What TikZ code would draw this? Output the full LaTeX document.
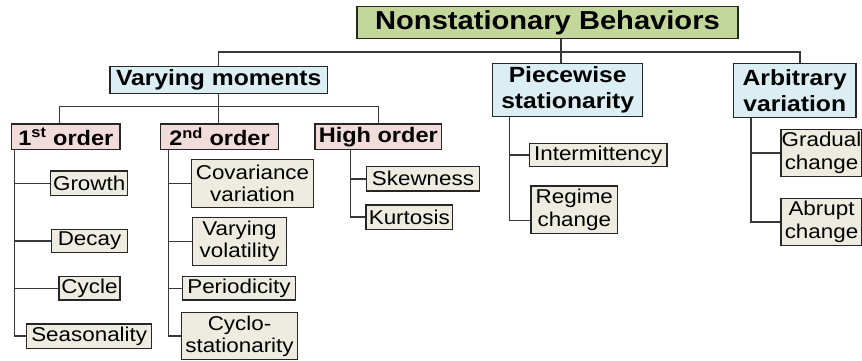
\documentclass[tikz,border=0pt]{standalone}
\usepackage{fontspec}
\setmainfont{Liberation Sans}[FakeStretch=1.12]
\usepackage{tikz}

\definecolor{topgreen}{HTML}{C4D79B}
\definecolor{catblue}{HTML}{DBEEF4}
\definecolor{subpink}{HTML}{F2DCDB}
\definecolor{leafbeige}{HTML}{EEECE1}
\definecolor{boxline}{HTML}{262626}
\definecolor{linegray}{HTML}{383838}

\tikzset{
  box/.style={draw=boxline, line width=1.4pt, inner sep=0pt, align=center},
  topbox/.style={box, fill=topgreen, font=\fontsize{26}{29}\selectfont\bfseries},
  catbox/.style={box, fill=catblue, font=\fontsize{22}{26}\selectfont\bfseries},
  subbox/.style={box, fill=subpink, font=\fontsize{21}{24}\selectfont\bfseries},
  leafbox/.style={box, fill=leafbeige, font=\fontsize{20}{22.4}\selectfont},
  link/.style={draw=linegray, line width=1.5pt},
}

\begin{document}
\begin{tikzpicture}[x=1pt, y=-1pt]
			\clip (0,0) rectangle (862,360);
			\coordinate (busA) at (0,52);
			\coordinate (busB) at (0,106.7);
			% boxes
			\node[topbox, minimum width=381, minimum height=31.6] (root) at (547.5,22.5) {Nonstationary Behaviors};
			\node[catbox, minimum width=217.3, minimum height=26.6] (vm) at (218.7,80) {Varying moments};
			\node[catbox, minimum width=150, minimum height=53.4] (pw) at (567.7,90) {Piecewise\\stationarity};
			\node[catbox, minimum width=122.7, minimum height=54] (arb) at (794.7,90.3) {Arbitrary\\variation};
			\node[subbox, minimum width=108.3, minimum height=25.3] (first) at (65.85,136.7) {1\textsuperscript{st} order};
			\node[subbox, minimum width=117.6, minimum height=25.3] (second) at (219.5,136.7) {2\textsuperscript{nd} order};
			\node[subbox, minimum width=126.7, minimum height=25.3] (high) at (378.3,136.7) {High order};
			\node[leafbox, minimum width=77, minimum height=24.7] (growth) at (89.2,183.3) {Growth};
			\node[leafbox, minimum width=75.7, minimum height=23.4] (decay) at (89.5,241) {Decay};
			\node[leafbox, minimum width=61, minimum height=23.3] (cycle) at (89.5,288.3) {Cycle};
			\node[leafbox, minimum width=125, minimum height=24.3] (season) at (89.2,336.2) {Seasonality};
			\node[leafbox, minimum width=121.6, minimum height=48.4] (cov) at (252.5,183.5) {Covariance\\variation};
			\node[leafbox, minimum width=94.4, minimum height=48.4] (vol) at (239.5,241.5) {Varying\\volatility};
			\node[leafbox, minimum width=113.4, minimum height=23.3] (period) at (239,288.3) {Periodicity};
			\node[leafbox, minimum width=115.6, minimum height=47] (cyclo) at (239.5,336.2) {Cyclo-\\stationarity};
			\node[leafbox, minimum width=112.6, minimum height=24.3] (skew) at (423,178.8) {Skewness};
			\node[leafbox, minimum width=86.7, minimum height=24.3] (kurt) at (409.3,217.2) {Kurtosis};
			\node[leafbox, minimum width=137.7, minimum height=23.4] (inter) at (598.2,155) {Intermittency};
			\node[leafbox, minimum width=86.7, minimum height=47.3] (regime) at (574.3,209.7) {Regime\\change};
			\node[leafbox, minimum width=81, minimum height=47.4] (gradual) at (821.5,153) {Gradual\\change};
			\node[leafbox, minimum width=81, minimum height=47.4] (abrupt) at (821.5,222) {Abrupt\\change};
			% top level
			\draw[link] (vm.north) -- (vm.north |- busA) -- ([xshift=5.3]arb.north |- busA) -- ([xshift=5.3]arb.north);
			\draw[link] ([xshift=-6.7]pw.north |- root.south) -- ([xshift=-6.7]pw.north);
			% moments
			\draw[link] (vm.south) -- (vm.south |- second.north);
			\draw[link] ([xshift=-6.5]first.north) -- ([xshift=-6.5]first.north |- busB) -- (high.north |- busB) -- (high.north);
			% 1st order
			\draw[link] ([xshift=3.3]first.south west) |- (season.west);
			\draw[link] ([xshift=3.3]first.south west |- growth.west) -- (growth.west);
			\draw[link] ([xshift=3.3]first.south west |- decay.west) -- (decay.west);
			\draw[link] ([xshift=3.3]first.south west |- cycle.west) -- (cycle.west);
			% 2nd order
			\draw[link] ([xshift=8.3]second.south west) |- (cyclo.west);
			\draw[link] ([xshift=8.3]second.south west |- cov.west) -- (cov.west);
			\draw[link] ([xshift=8.3]second.south west |- vol.west) -- (vol.west);
			\draw[link] ([xshift=8.3]second.south west |- period.west) -- (period.west);
			% high order
			\draw[link] ([xshift=36]high.south west) |- (kurt.west);
			\draw[link] ([xshift=36]high.south west |- skew.west) -- (skew.west);
			% piecewise
			\draw[link] ([xshift=17.5]pw.south west) |- ([yshift=-11]regime.west);
			\draw[link] ([xshift=17.5]pw.south west |- inter.west) -- (inter.west);
			% arbitrary
			\draw[link] ([xshift=18.4]arb.south west) |- (abrupt.west);
			\draw[link] ([xshift=18.4]arb.south west |- gradual.west) -- (gradual.west);
		\end{tikzpicture}
\end{document}
